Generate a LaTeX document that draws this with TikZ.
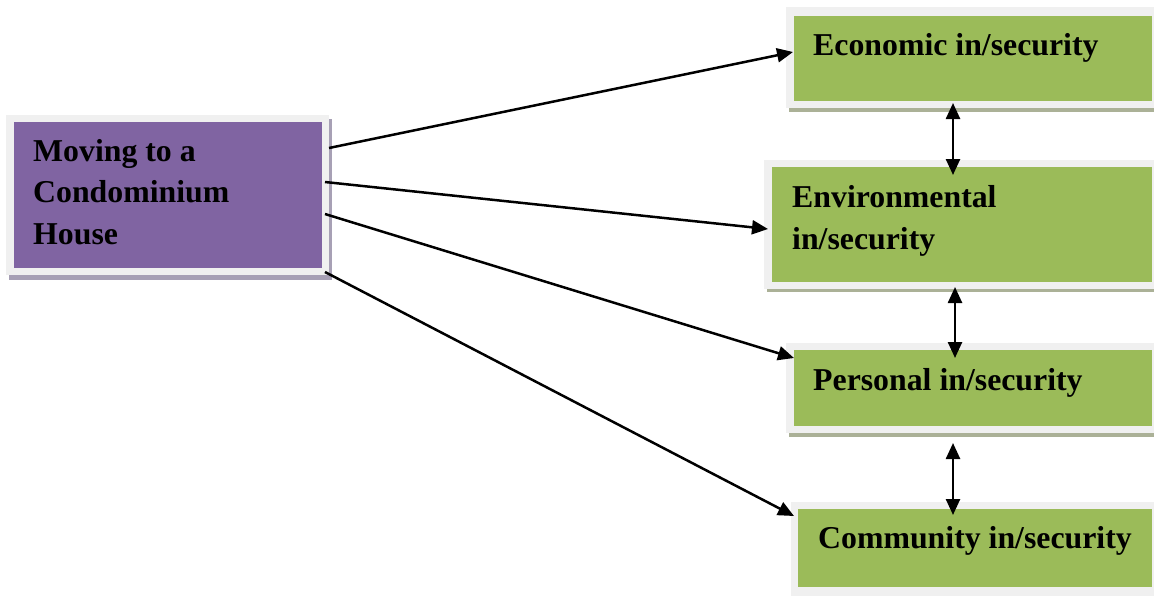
\documentclass[tikz,border=0pt]{standalone}
\usepackage{fontspec}
\setmainfont{Liberation Serif}
\usetikzlibrary{arrows.meta,backgrounds}
\definecolor{purplebox}{HTML}{8064A2}
\definecolor{greenbox}{HTML}{9BBB59}
\definecolor{framegray}{HTML}{F0F0F0}
\definecolor{pshadow}{HTML}{A7A0B5}
\definecolor{gshadow}{HTML}{ABB197}
\tikzset{
  pbox/.style={rectangle, fill=purplebox, inner sep=0pt, outer sep=0pt, anchor=north west},
  gbox/.style={rectangle, fill=greenbox, inner sep=0pt, outer sep=0pt, anchor=north west},
  lbl/.style={anchor=base west, inner sep=0pt, align=left,
    font=\fontsize{31.8}{41.5}\selectfont\bfseries},
  arr/.style={line width=2.5pt, -{Triangle[length=16pt,width=14pt]}},
  darr/.style={line width=2.5pt, {Triangle[length=16pt,width=14pt]}-{Triangle[length=16pt,width=14pt]}},
}
\begin{document}
\begin{tikzpicture}[x=1pt,y=-1pt]
\useasboundingbox (0,0) rectangle (1154,595);
% boxes
\node[pbox, minimum width=308pt, minimum height=146pt] (mov) at (14,122) {};
\node[gbox, minimum width=358pt, minimum height=85pt] (eco) at (794,16) {};
\node[gbox, minimum width=380pt, minimum height=115pt] (env) at (772,167) {};
\node[gbox, minimum width=358pt, minimum height=76pt] (per) at (794,350) {};
\node[gbox, minimum width=354pt, minimum height=78pt] (com) at (798,509) {};
% frames and shadows
\begin{scope}[on background layer]
  \fill[pshadow] ([shift={(-5,-3)}]mov.north west) rectangle ([shift={(10,12)}]mov.south east);
  \fill[framegray] ([shift={(-8,-7)}]mov.north west) rectangle ([shift={(7,7)}]mov.south east);
  \fill[gshadow] ([shift={(-5,-3)}]eco.north west) rectangle ([shift={(10,11)}]eco.south east);
  \fill[framegray] ([shift={(-8,-9)}]eco.north west) rectangle ([shift={(8,7)}]eco.south east);
  \fill[gshadow] ([shift={(-5,-3)}]env.north west) rectangle ([shift={(10,10)}]env.south east);
  \fill[framegray] ([shift={(-8,-7)}]env.north west) rectangle ([shift={(8,7)}]env.south east);
  \fill[gshadow] ([shift={(-5,-3)}]per.north west) rectangle ([shift={(10,11)}]per.south east);
  \fill[framegray] ([shift={(-8,-7)}]per.north west) rectangle ([shift={(8,7)}]per.south east);
  \fill[framegray] ([shift={(-7,-7)}]com.north west) rectangle ([shift={(8,10)}]com.south east);
\end{scope}
% labels (base = baseline of the last line)
\node[lbl] (movt) at (33,244) {Moving to a\\Condominium\\House};
\node[lbl] (ecot) at (813,55) {Economic in/security};
\node[lbl] (envt) at (792,249) {Environmental\\in/security};
\node[lbl] (pert) at (813,390) {Personal in/security};
\node[lbl] (comt) at (818,548) {Community in/security};
% connectors
\draw[arr] ([shift={(7,26)}]mov.north east) -- ([shift={(-1,36)}]eco.north west);
\draw[arr] ([shift={(3,60)}]mov.north east) -- ([shift={(-4,62)}]env.north west);
\draw[arr] ([shift={(3,92)}]mov.north east) -- ([shift={(0,8)}]per.north west);
\draw[arr] ([shift={(3,4)}]mov.south east) -- ([shift={(-4,7)}]com.north west);
\draw[darr] ([shift={(159,2)}]eco.south west) -- ([shift={(181,8)}]env.north west);
\draw[darr] ([shift={(183,5)}]env.south west) -- ([shift={(161,8)}]per.north west);
\draw[darr] ([shift={(159,17)}]per.south west) -- ([shift={(155,6)}]com.north west);
\end{tikzpicture}
\end{document}
